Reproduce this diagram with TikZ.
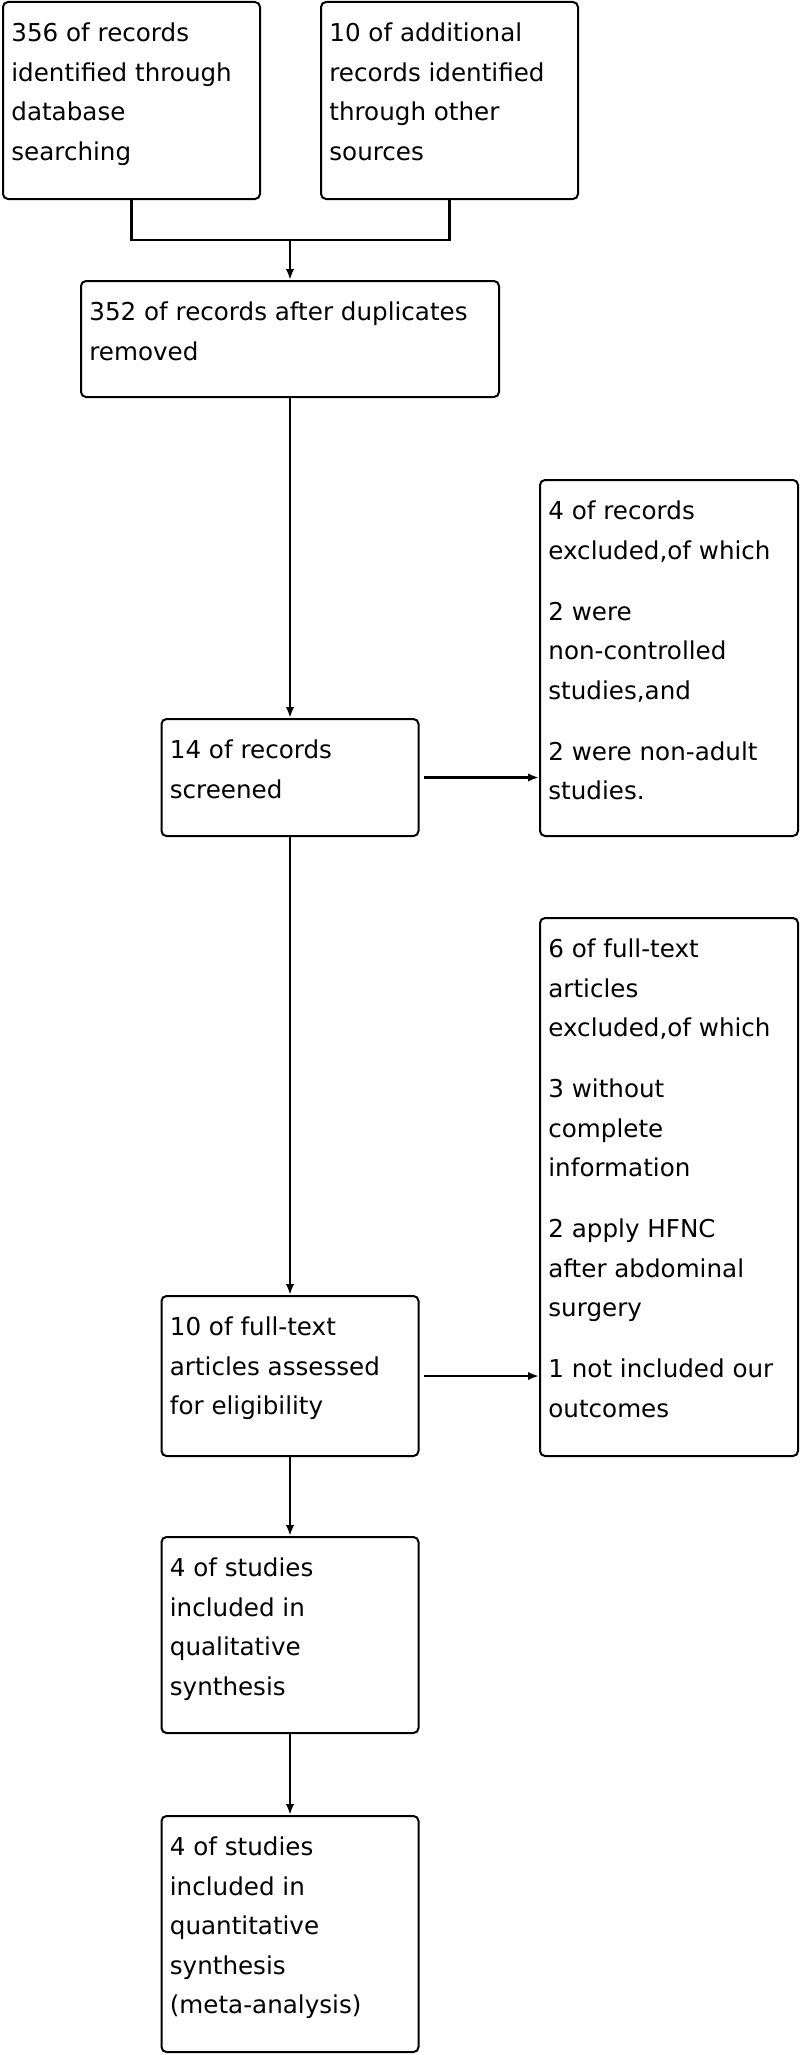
\documentclass[tikz,border=0pt]{standalone}
\usepackage{fontspec}
\setmainfont{DejaVu Sans}
\usepackage{tikz}
\usetikzlibrary{
    arrows.meta,
    calc,
    positioning
}

\begin{document}
\begin{tikzpicture}[x=0.5pt,y=-0.5pt,
    box/.style={draw,line width=1pt,rounded corners=2.5pt,inner sep=0pt},
    txt/.style={align=left,inner sep=0pt,font=\fontsize{12.3}{19.75}\selectfont},
    line/.style={line width=1.1pt},
    arr/.style={line width=1.1pt,-{Latex[length=5.5pt,width=4.2pt]}}]
\useasboundingbox (0,0) rectangle (800,2055);

% Identification
\node[box,minimum width=128.5pt,minimum height=98.5pt] (dbsearch) at (131.5,100.5) {};
\node[box,minimum width=128.5pt,minimum height=98.5pt] (othersrc) at (449.5,100.5) {};
\node[txt,below right=10.75pt and 4.5pt of dbsearch.north west] (tdbsearch)
    {356 of records\\identified through\\database\\searching};
\node[txt,below right=10.75pt and 4.5pt of othersrc.north west] (tothersrc)
    {10 of additional\\records identified\\through other\\sources};

% Screening
\node[box,minimum width=209pt,minimum height=58pt] (dupl) at (290,339) {};
\node[txt,below right=10.75pt and 4.5pt of dupl.north west] (tdupl)
    {352 of records after duplicates\\removed};
\node[box,minimum width=128.5pt,minimum height=58.5pt] (screen) at (290,777.5) {};
\node[txt,below right=10.75pt and 4.5pt of screen.north west] (tscreen)
    {14 of records\\screened};
\node[box,minimum width=129pt,minimum height=178pt] (exclrec) at (669,658) {};
\node[txt,below right=10.75pt and 4.5pt of exclrec.north west] (texclrec)
    {4 of records\\excluded,of which\\[10.75pt]2 were\\non-controlled\\studies,and\\[10.75pt]2 were non-adult\\studies.};

% Eligibility
\node[box,minimum width=128.5pt,minimum height=80pt] (fulltext) at (290,1376) {};
\node[txt,below right=10.75pt and 4.5pt of fulltext.north west] (tfulltext)
    {10 of full-text\\articles assessed\\for eligibility};
\node[box,minimum width=129pt,minimum height=269pt] (exclart) at (669,1187) {};
\node[txt,below right=10.75pt and 4.5pt of exclart.north west] (texclart)
    {6 of full-text\\articles\\excluded,of which\\[10.75pt]3 without\\complete\\information\\[10.75pt]2 apply HFNC\\after abdominal\\surgery\\[10.75pt]1 not included our\\outcomes};

% Included
\node[box,minimum width=128.5pt,minimum height=98pt] (qual) at (290,1635) {};
\node[txt,below right=10.75pt and 4.5pt of qual.north west] (tqual)
    {4 of studies\\included in\\qualitative\\synthesis};
\node[box,minimum width=128.5pt,minimum height=118pt] (quant) at (290,1934) {};
\node[txt,below right=10.75pt and 4.5pt of quant.north west] (tquant)
    {4 of studies\\included in\\quantitative\\synthesis\\(meta-analysis)};

% Connectors
\coordinate (mrg) at (290,240);
\draw[line] (dbsearch.south) |- (mrg) -| (othersrc.south);
\draw[arr] (mrg) -- (dupl.north);
\draw[arr] (dupl.south) -- (screen.north);
\draw[arr,shorten <=2pt] (screen.east) -- (screen.east -| exclrec.west);
\draw[arr] (screen.south) -- (fulltext.north);
\draw[arr,shorten <=2pt] (fulltext.east) -- (fulltext.east -| exclart.west);
\draw[arr] (fulltext.south) -- (qual.north);
\draw[arr] (qual.south) -- (quant.north);
\end{tikzpicture}
\end{document}
